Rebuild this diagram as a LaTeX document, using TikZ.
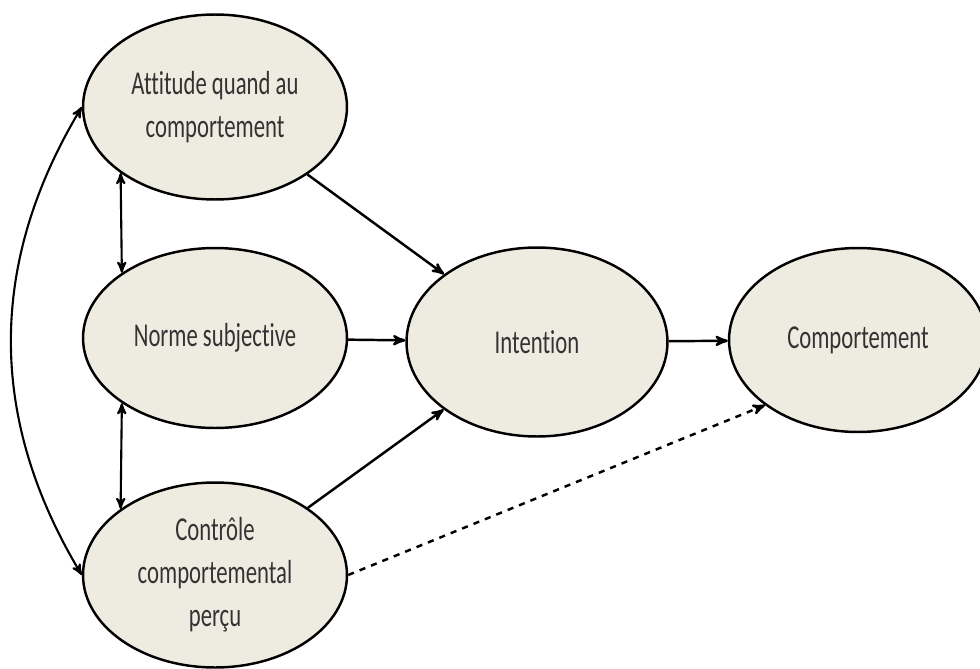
\documentclass[tikz,border=0pt]{standalone}
\usepackage{fontspec}
\setmainfont[FakeStretch=0.68,Ligatures={NoCommon}]{Carlito}
\usepackage{xcolor}
\usepackage{tikz}
\usetikzlibrary{shapes}
\usetikzlibrary{arrows}
\definecolor{ovalfill}{HTML}{EEECE1}
\tikzset{
	main node/.style={ellipse,draw,fill=ovalfill,line width=1.4pt,inner sep=0pt,
		align=center,text=black!80,font=\fontsize{19}{24.5}\selectfont,
		minimum width=5.28cm,minimum height=3.7cm},
	link/.style={->,line width=1.4pt},
	both/.style={<->,line width=1.2pt}
}

\begin{document}
\begin{tikzpicture}[>=stealth',x=0.02cm,y=-0.02cm]
	\useasboundingbox (0,0) rectangle (980,669);
	\node [main node] (att) at (215,107) {Attitude quand au\\comportement};
	\node [main node,minimum height=3.6cm] (norm) at (215,338) {Norme subjective};
	\node [main node] (ctrl) at (215,575) {Contrôle\\comportemental\\perçu};
	\node [main node,minimum width=5.22cm,minimum height=3.78cm] (int) at (537,342) {Intention};
	\node [main node,minimum width=5.16cm,minimum height=3.68cm] (comp) at (858,340) {Comportement};
	% effets sur l'intention
	\draw [link] (att) -- (int);
	\draw [link] (norm) -- (int);
	\draw [link] (ctrl) -- (int);
	\draw [link] (int) -- (comp);
	\draw [link,dash pattern=on 3.5pt off 3.5pt] (ctrl.east) -- (comp.215);
	% correlations
	\draw [both] (att.-145) -- (norm.145);
	\draw [both] (norm.-145) -- (ctrl.145);
	\draw [both] (att.west) to[bend right=31] (ctrl.west);
\end{tikzpicture}
\end{document}
